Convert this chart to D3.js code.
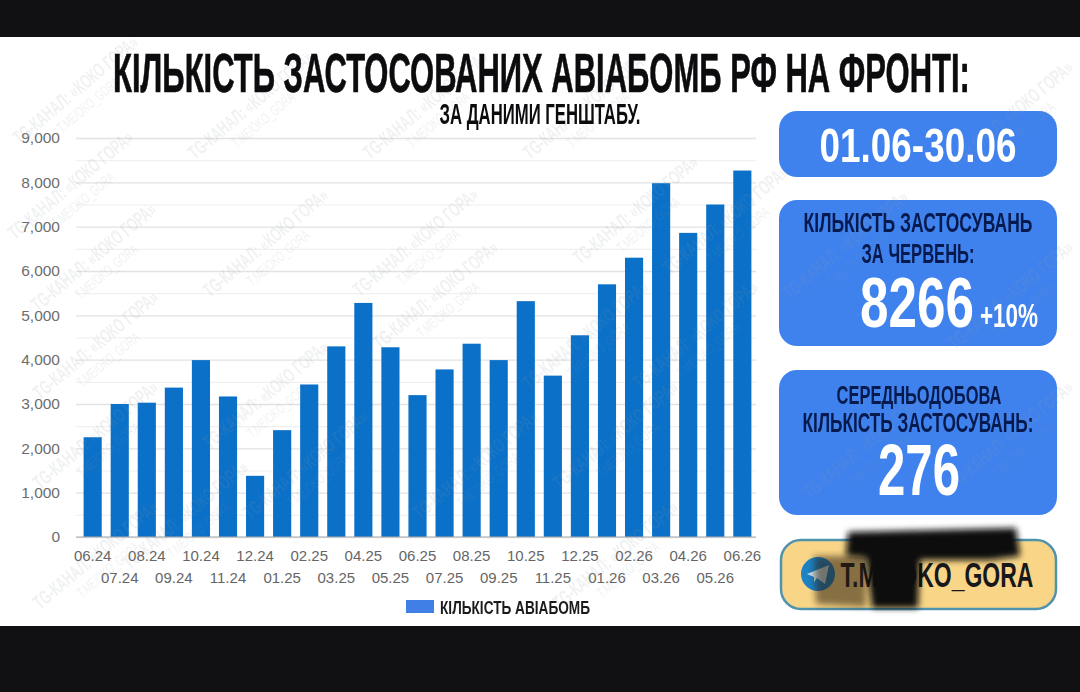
<!DOCTYPE html>
<html lang="uk">
<head>
<meta charset="utf-8">
<title>Кількість авіабомб</title>
<script src="https://cdn.jsdelivr.net/npm/d3@7"></script>
<style>
html, body { margin: 0; padding: 0; background: #111113; }
svg { display: block; }
.fat { font-family: "Liberation Sans", sans-serif; font-weight: 700; }
.tick text { font-family: "Liberation Sans", sans-serif; }
</style>
</head>
<body>
<svg id="chart"></svg>
<script>
const months = ["06.24","07.24","08.24","09.24","10.24","11.24","12.24","01.25","02.25","03.25","04.25","05.25","06.25","07.25","08.25","09.25","10.25","11.25","12.25","01.26","02.26","03.26","04.26","05.26","06.26"]
const bombs = [2250,3000,3030,3370,3990,3170,1380,2410,3440,4300,5280,4280,3200,3780,4360,3990,5320,3640,4550,5700,6300,7980,6860,7500,8266]
const majorTicks = [0,1000,2000,3000,4000,5000,6000,7000,8000,9000]
const minorTicks = [500,1500,2500,3500,4500,5500,6500,7500,8500]
const seriesName = "КІЛЬКІСТЬ АВІАБОМБ"
const watermarkSpots = [[80,95],[75,190],[98,262],[255,110],[430,110],[270,248],[420,247],[590,110],[640,215],[730,225],[590,340],[440,300],[270,400],[100,350],[100,440],[480,470],[310,470],[100,560],[620,440],[700,340],[850,250],[1015,120],[1015,300],[1015,440],[870,450],[190,520],[620,560]]

const width = 1080
const height = 692
const margin = {top: 138, right: 324, bottom: 155, left: 79}

const svg = d3.select("#chart").attr("width", width).attr("height", height)

svg.append("rect").attr("y", 37).attr("width", width).attr("height", 589).attr("fill", "#fff")

const x = d3.scaleBand()
    .domain(months)
    .range([margin.left, width - margin.right])
    .paddingInner(0.33)
    .paddingOuter(0.17)

const y = d3.scaleLinear()
    .domain([0, 9000])
    .range([height - margin.bottom, margin.top])

// text squeezed to a given width, the poster font is very condensed
const fitText = (g, str, cx, base, size, w, fill) => {
    const t = g.append("text")
        .attr("class", "fat")
        .attr("font-size", size)
        .attr("fill", fill)
        .text(str)
    const len = t.node().getComputedTextLength()
    t.attr("text-anchor", "middle")
        .attr("transform", `translate(${cx},${base}) scale(${w / len},1)`)
    return t
}

// gridlines
svg.append("g")
    .attr("transform", `translate(${margin.left - 3},0)`)
    .call(d3.axisRight(y).tickValues(minorTicks).tickSize(width - margin.right - margin.left + 3).tickFormat(""))
    .call(g => g.select(".domain").remove())
    .call(g => g.selectAll("line").attr("stroke", "#f0f0f0").attr("stroke-width", 1.2))

svg.append("g")
    .attr("transform", `translate(${margin.left - 3},0)`)
    .call(d3.axisLeft(y).tickValues(majorTicks).tickFormat(d3.format(",")).tickSize(0).tickPadding(16))
    .call(g => g.select(".domain").remove())
    .call(g => g.selectAll("text").attr("font-size", 15.5).attr("fill", "#6d6d6d"))

svg.append("g")
    .attr("transform", `translate(${margin.left - 3},0)`)
    .call(d3.axisRight(y).tickValues(majorTicks).tickSize(width - margin.right - margin.left + 3).tickFormat(""))
    .call(g => g.select(".domain").remove())
    .call(g => g.selectAll("line").attr("stroke", "#e2e2e2").attr("stroke-width", 1.3))

// bars
svg.append("g")
    .attr("fill", "#0a70c8")
    .selectAll("rect")
    .data(bombs)
    .join("rect")
    .attr("x", (d, i) => x(months[i]))
    .attr("y", d => y(d))
    .attr("width", x.bandwidth())
    .attr("height", d => y(0) - y(d))

// x axis, labels stagger on two rows
svg.append("g")
    .attr("transform", `translate(0,${y(0)})`)
    .call(d3.axisBottom(x).tickSize(0).tickPadding(13))
    .call(g => g.select(".domain").attr("stroke", "#a9a9a9").attr("stroke-width", 1.2).attr("d", `M${margin.left - 3},0H${width - margin.right}`))
    .call(g => g.selectAll("text")
        .attr("font-size", 15)
        .attr("fill", "#666")
        .attr("y", (d, i) => i % 2 ? 35 : 13))

// side panels
const panels = svg.append("g").attr("fill", "#3f82ee")
panels.append("rect").attr("x", 779).attr("y", 111).attr("width", 278).attr("height", 66).attr("rx", 18)
panels.append("rect").attr("x", 779).attr("y", 200).attr("width", 278).attr("height", 146).attr("rx", 18)
panels.append("rect").attr("x", 779).attr("y", 370).attr("width", 278).attr("height", 145).attr("rx", 18)

// channel watermark sits under the texts
const marks = svg.append("g")
    .attr("fill", "#8f9aa6")
    .attr("opacity", 0.14)
    .attr("text-anchor", "middle")
    .attr("font-family", "'Liberation Sans', sans-serif")
    .selectAll("g")
    .data(watermarkSpots)
    .join("g")
    .attr("transform", d => `translate(${d[0]},${d[1]}) rotate(-40) scale(0.62,1)`)
marks.append("text").attr("font-size", 20).attr("font-weight", 700).text("TG-КАНАЛ: «КОКО ГОРА»")
marks.append("text").attr("font-size", 15).attr("y", 18).text("T.ME/OKO_GORA")

// title
fitText(svg.append("g"), "КІЛЬКІСТЬ ЗАСТОСОВАНИХ  АВІАБОМБ РФ НА ФРОНТІ:", 541.5, 92, 56, 857, "#0c0c0e")
    .attr("stroke", "#0c0c0e").attr("stroke-width", 0.7)
fitText(svg.append("g"), "ЗА ДАНИМИ ГЕНШТАБУ.", 540, 124, 29, 201, "#0c0c0e")

// legend
const legend = svg.append("g")
legend.append("rect").attr("x", 406).attr("y", 600).attr("width", 28).attr("height", 13).attr("fill", "#3f7fe6")
fitText(legend, seriesName, 515, 614, 19, 150, "#1a1a1c")

const side = svg.append("g")
fitText(side, "01.06-30.06", 918, 162, 49, 197, "#fff")
fitText(side, "КІЛЬКІСТЬ ЗАСТОСУВАНЬ", 918, 232, 27, 229, "#071a4d")
fitText(side, "ЗА ЧЕРВЕНЬ:", 918, 263, 28, 113, "#071a4d")
fitText(side, "8266", 917, 327, 70, 114, "#fff")
fitText(side, "+10%", 1009, 327, 33, 58, "#fff").attr("font-weight", 400)
fitText(side, "СЕРЕДНЬОДОБОВА", 919, 404, 26, 165, "#071a4d")
fitText(side, "КІЛЬКІСТЬ ЗАСТОСУВАНЬ:", 918, 432, 27, 231, "#071a4d")
fitText(side, "276", 919, 495, 72, 82, "#fff")

// link button
const link = svg.append("g")
link.append("rect").attr("x", 781).attr("y", 540).attr("width", 275).attr("height", 69).attr("rx", 20)
    .attr("fill", "#f8d587").attr("stroke", "#4f93ad").attr("stroke-width", 2.5)
link.append("circle").attr("cx", 818).attr("cy", 574).attr("r", 17).attr("fill", "#1c82c4")
link.append("path").attr("d", "M807,574L829,565L825,584L817,578L814,582L814,577Z").attr("fill", "#c9dfe9")
fitText(link, "T.ME/OKO_GORA", 937, 587, 35, 193, "#17181c").attr("font-weight", 400)

// redaction scribble, main stroke then the thinner smear on the left
svg.append("defs").append("filter").attr("id", "soft").append("feGaussianBlur").attr("stdDeviation", 3)
svg.append("path")
    .attr("d", "M814,556L866,556L866,607L816,604Z")
    .attr("fill", "#2a1c0c").attr("opacity", 0.55)
    .attr("filter", "url(#soft)")
svg.append("path")
    .attr("d", "M848,532L1016,528L1020,556L990,560L920,560L918,608L872,608L866,558L846,556Z")
    .attr("fill", "#0b0b0b")
    .attr("filter", "url(#soft)")
</script>
</body>
</html>
